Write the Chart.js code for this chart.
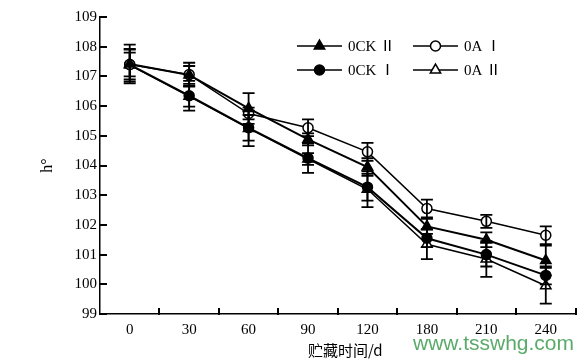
<!DOCTYPE html>
<html>
<head>
<meta charset="utf-8">
<script src="https://cdn.jsdelivr.net/npm/chart.js@4"></script>
<style>
  html, body { margin: 0; background: #fff; }
  #wrap { width: 583px; height: 359px; }
</style>
</head>
<body>
<div id="wrap"><canvas id="c"></canvas></div>
<script>
// storage days (category axis)
const days = ['0', '30', '60', '90', '120', '180', '210', '240'];

// hue angle h° per treatment
const ock2 = [107.42, 107.05, 105.92, 104.88, 103.95, 101.95, 101.50, 100.80];
const oa1  = [107.40, 107.06, 105.75, 105.27, 104.46, 102.55, 102.12, 101.65];
const ock1 = [107.40, 106.35, 105.27, 104.25, 103.27, 101.55, 101.00, 100.30];
const oa2  = [107.38, 106.33, 105.25, 104.22, 103.20, 101.35, 100.85, 99.95];

// standard deviations (error bars)
const ock2Err = [0.65, 0.30, 0.52, 0.20, 0.30, 0.25, 0.25, 0.50];
const oa1Err  = [0.50, 0.40, 0.20, 0.28, 0.30, 0.30, 0.22, 0.30];
const ock1Err = [0.40, 0.50, 0.43, 0.50, 0.45, 0.30, 0.40, 0.30];
const oa2Err  = [0.55, 0.35, 0.60, 0.20, 0.60, 0.50, 0.60, 0.60];

const names = ['0CK Ⅱ', '0A Ⅰ', '0CK Ⅰ', '0A Ⅱ'];

const yMin = 99, yMax = 109;

const serif = "'Liberation Serif', 'Times New Roman', serif";

function makeSet(label, data, err, style, filled, width) {
  return {
    label: label,
    data: data,
    err: err,
    borderColor: '#000',
    borderWidth: width,
    pointStyle: style,
    pointRadius: style === 'triangle' ? 6 : 5,
    pointHoverRadius: 5,
    pointBorderWidth: 1.5,
    pointBackgroundColor: filled ? '#000' : '#fff',
    pointBorderColor: '#000',
    tension: 0
  };
}

const errorBars = {
  id: 'errorBars',
  afterDatasetsDraw(chart) {
    const ctx = chart.ctx;
    const y = chart.scales.y;
    ctx.save();
    ctx.strokeStyle = '#000';
    ctx.lineWidth = 1.8;
    chart.data.datasets.forEach((ds, i) => {
      const meta = chart.getDatasetMeta(i);
      meta.data.forEach((pt, j) => {
        const top = y.getPixelForValue(ds.data[j] + ds.err[j]);
        const bot = y.getPixelForValue(ds.data[j] - ds.err[j]);
        ctx.beginPath();
        ctx.moveTo(pt.x, top); ctx.lineTo(pt.x, bot);
        ctx.moveTo(pt.x - 6, top); ctx.lineTo(pt.x + 6, top);
        ctx.moveTo(pt.x - 6, bot); ctx.lineTo(pt.x + 6, bot);
        ctx.stroke();
      });
    });
    ctx.restore();
  }
};

// tick marks pointing into the plot
const innerTicks = {
  id: 'innerTicks',
  afterDraw(chart) {
    const ctx = chart.ctx;
    const xs = chart.scales.x, ys = chart.scales.y;
    const area = chart.chartArea;
    ctx.save();
    ctx.strokeStyle = '#000';
    ctx.lineWidth = 2;
    ctx.beginPath();
    for (let v = yMin; v <= yMax; v++) {
      const py = Math.round(ys.getPixelForValue(v));
      ctx.moveTo(area.left - 1, py); ctx.lineTo(area.left + 7, py);
    }
    const half = (xs.getPixelForValue(1) - xs.getPixelForValue(0)) / 2;
    for (let i = 0; i < days.length; i++) {
      const px = Math.round(xs.getPixelForValue(i) + half);
      ctx.moveTo(px, area.bottom + 1); ctx.lineTo(px, area.bottom - 6);
    }
    ctx.stroke();
    ctx.restore();
  }
};

const legendBox = {
  id: 'legendBox',
  afterDraw(chart) {
    const ctx = chart.ctx;
    const cols = [297, 413], rows = [46, 70];
    ctx.save();
    chart.data.datasets.forEach((ds, k) => {
      const x0 = cols[k % 2], yy = rows[Math.floor(k / 2)];
      ctx.strokeStyle = '#000';
      ctx.lineWidth = 1.5;
      ctx.beginPath();
      ctx.moveTo(x0, yy); ctx.lineTo(x0 + 45, yy);
      ctx.stroke();
      ctx.fillStyle = ds.pointBackgroundColor;
      Chart.helpers.drawPoint(ctx, { pointStyle: ds.pointStyle, radius: ds.pointRadius, rotation: 0, borderWidth: 1.5 }, x0 + 22.5, yy);
      ctx.fillStyle = '#000';
      ctx.font = "15px 'Liberation Serif', 'Noto Sans CJK SC', serif";
      ctx.textBaseline = 'middle';
      ctx.textAlign = 'left';
      ctx.fillText(ds.label, x0 + 51, yy + 1);
    });
    ctx.restore();
  }
};

const watermark = {
  id: 'watermark',
  afterDraw(chart) {
    const ctx = chart.ctx;
    ctx.save();
    ctx.fillStyle = '#5aaa6a';
    ctx.font = "21px 'Liberation Sans', Arial, sans-serif";
    ctx.textAlign = 'right';
    ctx.textBaseline = 'middle';
    ctx.fillText('www.tsswhg.com', 574, 344);
    ctx.restore();
  }
};

new Chart(document.getElementById('c'), {
  type: 'line',
  data: {
    labels: days,
    datasets: [
      makeSet(names[0], ock2, ock2Err, 'triangle', true, 2),
      makeSet(names[1], oa1, oa1Err, 'circle', false, 1.5),
      makeSet(names[2], ock1, ock1Err, 'circle', true, 2),
      makeSet(names[3], oa2, oa2Err, 'triangle', false, 1.5)
    ]
  },
  options: {
    responsive: true,
    maintainAspectRatio: false,
    animation: false,
    layout: { padding: { left: 38, right: 5, top: 17, bottom: 0 } },
    plugins: {
      legend: { display: false },
      tooltip: { enabled: false }
    },
    scales: {
      x: {
        offset: true,
        grid: { display: true, drawOnChartArea: false, drawTicks: false, offset: true, color: 'rgba(0,0,0,0)' },
        border: { display: true, color: '#000', width: 1.5 },
        ticks: { color: '#000', font: { family: serif, size: 15 }, padding: 7, maxRotation: 0 },
        title: { display: true, text: '　贮藏时间/d', color: '#000', font: { family: "'Noto Sans CJK SC', sans-serif", size: 15 }, padding: { top: 0, bottom: 0 } },
        afterFit(s) { s.height = 45; }
      },
      y: {
        min: yMin,
        max: yMax,
        ticks: { stepSize: 1, color: '#000', font: { family: serif, size: 15 }, padding: 3 },
        grid: { display: true, drawOnChartArea: false, drawTicks: false, color: 'rgba(0,0,0,0)' },
        border: { display: true, color: '#000', width: 1.5 },
        title: { display: true, text: 'h°', color: '#000', font: { family: serif, size: 16 }, padding: 0 },
        afterFit(s) { s.width = 62; }
      }
    }
  },
  plugins: [errorBars, innerTicks, legendBox, watermark]
});
</script>
</body>
</html>
